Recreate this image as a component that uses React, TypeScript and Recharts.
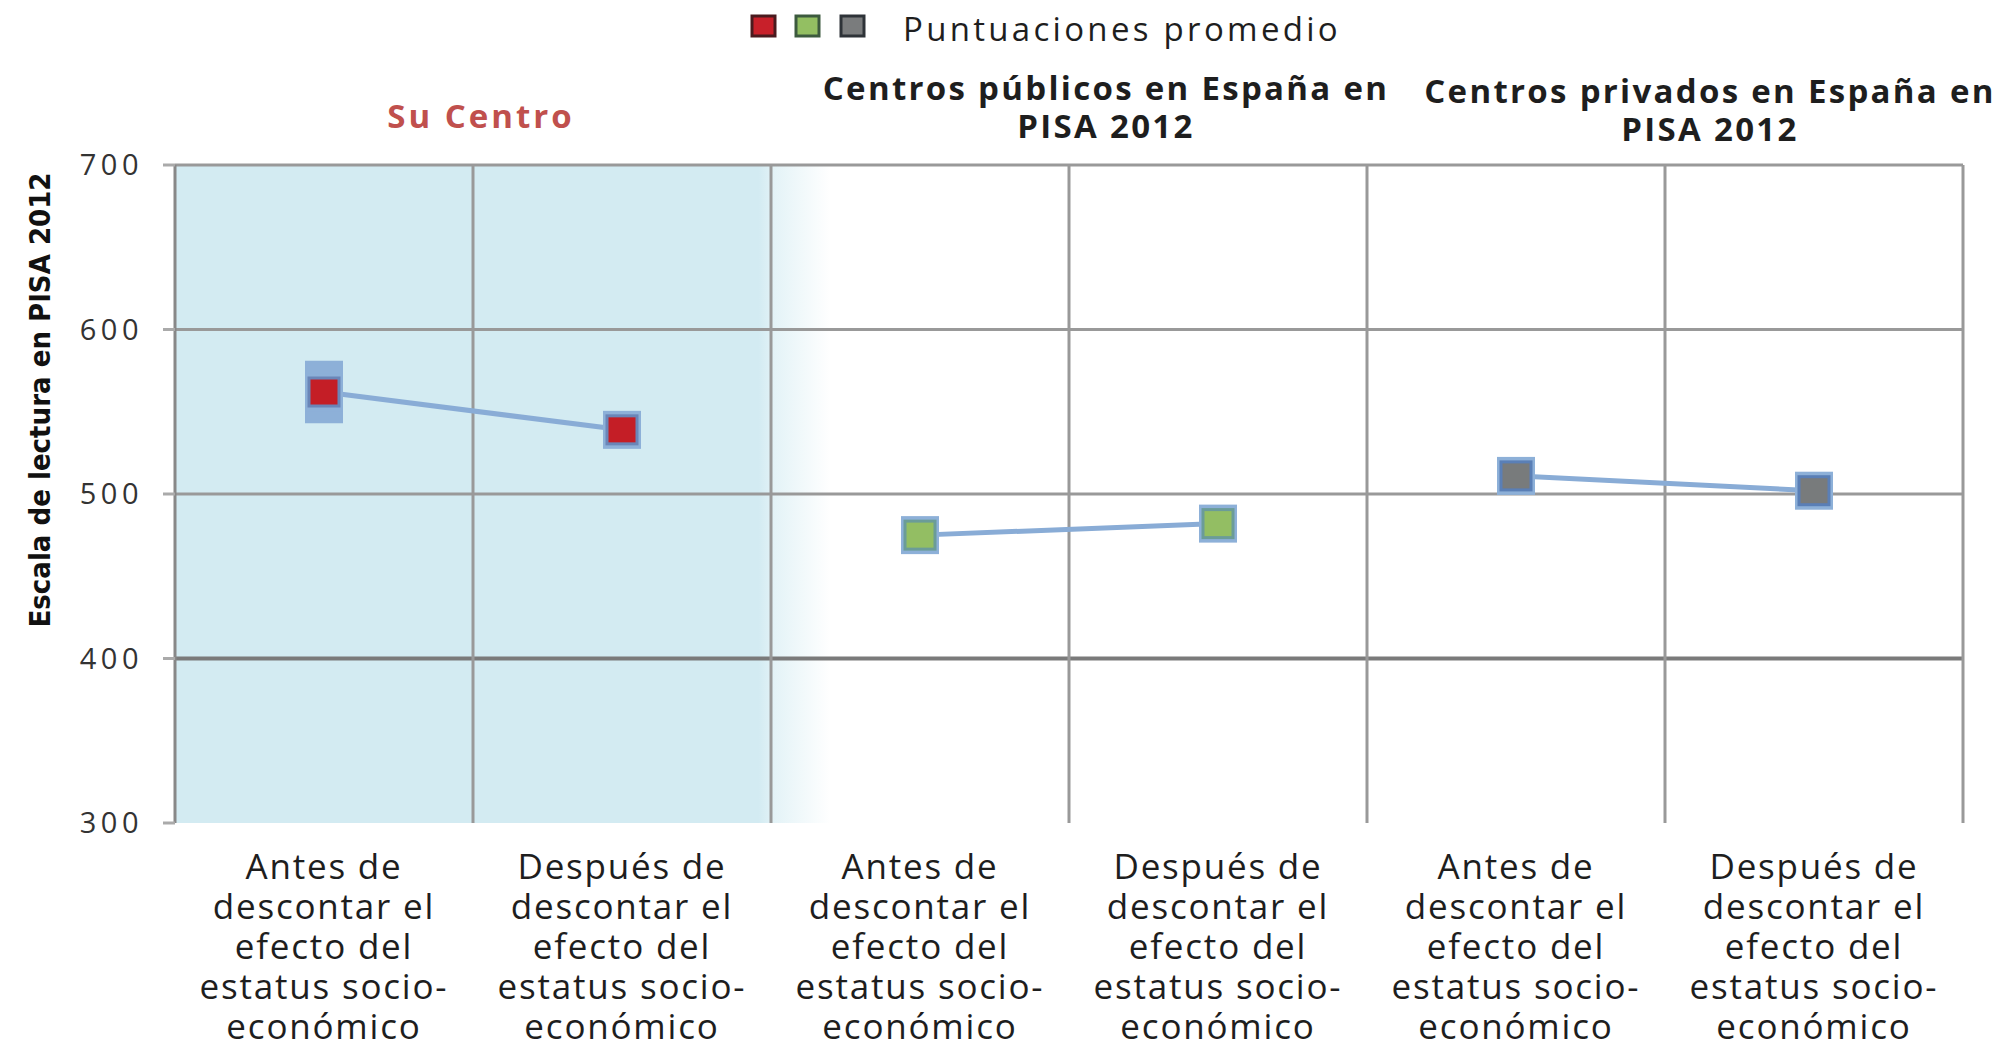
import {
  LineChart,
  Line,
  XAxis,
  YAxis,
  ReferenceArea,
  ReferenceLine,
  ErrorBar,
} from "recharts";

const categories = [
  "Antes de\ndescontar el\nefecto del\nestatus socio-\neconómico",
  "Después de\ndescontar el\nefecto del\nestatus socio-\neconómico",
  "Antes de\ndescontar el\nefecto del\nestatus socio-\neconómico",
  "Después de\ndescontar el\nefecto del\nestatus socio-\neconómico",
  "Antes de\ndescontar el\nefecto del\nestatus socio-\neconómico",
  "Después de\ndescontar el\nefecto del\nestatus socio-\neconómico",
];
const categoryPos = [0.5, 1.5, 2.5, 3.5, 4.5, 5.5];
const boundaryTicks = [0, 1, 2, 3, 4, 5, 6];
const yTicks = [300, 400, 500, 600, 700];

const suCentro = [562, 539, null, null, null, null];
const suCentroError = [19, 0, null, null, null, null];
const publicos = [null, null, 475, 482, null, null];
const privados = [null, null, null, null, 511, 502];

const FONT = "'Open Sans', 'DejaVu Sans', sans-serif";

const rows = categoryPos.map((x, i) => ({
  x,
  label: categories[i],
  s1: suCentro[i],
  e1: suCentroError[i],
  s2: publicos[i],
  s3: privados[i],
}));

const makeDot = (fill: string, edge: string) => (props: any) => {
  const { cx, cy, index } = props;
  if (cx == null || cy == null || props.value == null) return <g key={`d-${index}`} />;
  return (
    <g key={`d-${index}`}>
      <rect x={cx - 19} y={cy - 19} width={38} height={38} fill="#8db0d8" />
      <rect
        x={cx - 15}
        y={cy - 14}
        width={30}
        height={28}
        fill={fill}
        stroke={edge}
        strokeWidth={3}
      />
    </g>
  );
};

const CategoryTick = (props: any) => {
  const { x, y, payload } = props;
  const idx = categoryPos.indexOf(payload.value);
  const lines = idx >= 0 ? categories[idx].split("\n") : [];
  return (
    <text
      x={x}
      y={y}
      textAnchor="middle"
      fill="#1e1e1e"
      fontSize={35}
      letterSpacing={1.8}
      fontFamily={FONT}
    >
      {lines.map((l, i) => (
        <tspan key={i} x={x} y={y + 48 + i * 40}>
          {l}
        </tspan>
      ))}
    </text>
  );
};

export default function App() {
  return (
    <div style={{ position: "absolute", left: 0, top: 0, width: 2005, height: 1042, background: "#fff" }}>
      <LineChart
        width={2005}
        height={1042}
        data={rows}
        margin={{ top: 165, right: 42, bottom: 0, left: 0 }}
      >
        <defs>
          <linearGradient id="bgGrad" x1="0" y1="0" x2="1" y2="0">
            <stop offset="0%" stopColor="#d3ebf2" />
            <stop offset="89%" stopColor="#d3ebf2" />
            <stop offset="91.5%" stopColor="#e4f3f7" />
            <stop offset="100%" stopColor="#ffffff" />
          </linearGradient>
        </defs>
        <XAxis
          xAxisId="grid"
          type="number"
          dataKey="x"
          domain={[0, 6]}
          ticks={boundaryTicks}
          height={0}
          tickSize={10}
          tickFormatter={() => ""}
          axisLine={{ stroke: "#888", strokeWidth: 3 }}
          tickLine={{ stroke: "#999", strokeWidth: 3 }}
        />
        <XAxis
          xAxisId="lab"
          type="number"
          dataKey="x"
          domain={[0, 6]}
          ticks={categoryPos}
          height={219}
          axisLine={false}
          tickLine={false}
          tick={<CategoryTick />}
          interval={0}
        />
        <YAxis
          type="number"
          domain={[300, 700]}
          ticks={yTicks}
          width={175}
          tickSize={12}
          tickMargin={20}
          axisLine={{ stroke: "#888", strokeWidth: 3 }}
          tickLine={{ stroke: "#aaa", strokeWidth: 3 }}
          tick={{ fill: "#333", fontSize: 29, fontFamily: FONT, letterSpacing: 4.5 }}
          label={{
            value: "Escala de lectura en PISA 2012",
            angle: -90,
            position: "center",
            dx: -48,
            dy: -94,
            style: {
              fill: "#111",
              fontSize: 29,
              fontWeight: "bold",
              fontFamily: "'Liberation Sans Narrow', 'DejaVu Sans Condensed', sans-serif",
            },
          }}
        />
        <ReferenceArea
          xAxisId="lab"
          x1={0}
          x2={2.2}
          y1={300}
          y2={700}
          fill="url(#bgGrad)"
          fillOpacity={1}
          stroke="none"
        />
        {yTicks
          .filter((v) => v > 300)
          .map((v) => (
            <ReferenceLine
              key={`h-${v}`}
              xAxisId="lab"
              y={v}
              stroke={v === 400 ? "#7a7a7a" : "#999"}
              strokeWidth={v === 400 ? 4 : 3}
            />
          ))}
        {boundaryTicks
          .filter((v) => v > 0)
          .map((v) => (
            <ReferenceLine key={`v-${v}`} xAxisId="lab" x={v} stroke="#999" strokeWidth={3} />
          ))}
        <Line
          xAxisId="lab"
          dataKey="s1"
          stroke="#89acd6"
          strokeWidth={5}
          dot={makeDot("#c41e26", "#6a86b8")}
          activeDot={false}
          isAnimationActive={false}
        >
          <ErrorBar dataKey="e1" width={0} strokeWidth={38} stroke="#8db0d8" direction="y" />
        </Line>
        <Line
          xAxisId="lab"
          dataKey="s2"
          stroke="#89acd6"
          strokeWidth={5}
          dot={makeDot("#93be63", "#6b9c98")}
          activeDot={false}
          isAnimationActive={false}
        />
        <Line
          xAxisId="lab"
          dataKey="s3"
          stroke="#89acd6"
          strokeWidth={5}
          dot={makeDot("#787b7c", "#5a7fb6")}
          activeDot={false}
          isAnimationActive={false}
        />
      </LineChart>
      <svg
        width={2005}
        height={165}
        style={{ position: "absolute", left: 0, top: 0, pointerEvents: "none" }}
      >
        <rect x={752} y={16} width={23} height={20} fill="#c8202a" stroke="#4a1a1e" strokeWidth={3} />
        <rect x={796} y={16} width={23} height={20} fill="#93bf62" stroke="#3c5a3e" strokeWidth={3} />
        <rect x={841} y={16} width={23} height={20} fill="#7a7c7d" stroke="#2e3338" strokeWidth={3} />
        <text x={903} y={41} fontSize={33} fontFamily={FONT} fill="#1e1e1e" letterSpacing={3.3}>
          Puntuaciones promedio
        </text>
        <text x={481} y={128} textAnchor="middle" fontSize={33} fontWeight="bold" fontFamily={FONT} fill="#c0504d" letterSpacing={3}>
          Su Centro
        </text>
        <text textAnchor="middle" fontSize={33} fontWeight="bold" fontFamily={FONT} fill="#1e1e1e" letterSpacing={2.3}>
          <tspan x={1106} y={100}>Centros públicos en España en</tspan>
          <tspan x={1106} y={138}>PISA 2012</tspan>
        </text>
        <text textAnchor="middle" fontSize={33} fontWeight="bold" fontFamily={FONT} fill="#1e1e1e" letterSpacing={2.3}>
          <tspan x={1710} y={103}>Centros privados en España en</tspan>
          <tspan x={1710} y={141}>PISA 2012</tspan>
        </text>
      </svg>
    </div>
  );
}
